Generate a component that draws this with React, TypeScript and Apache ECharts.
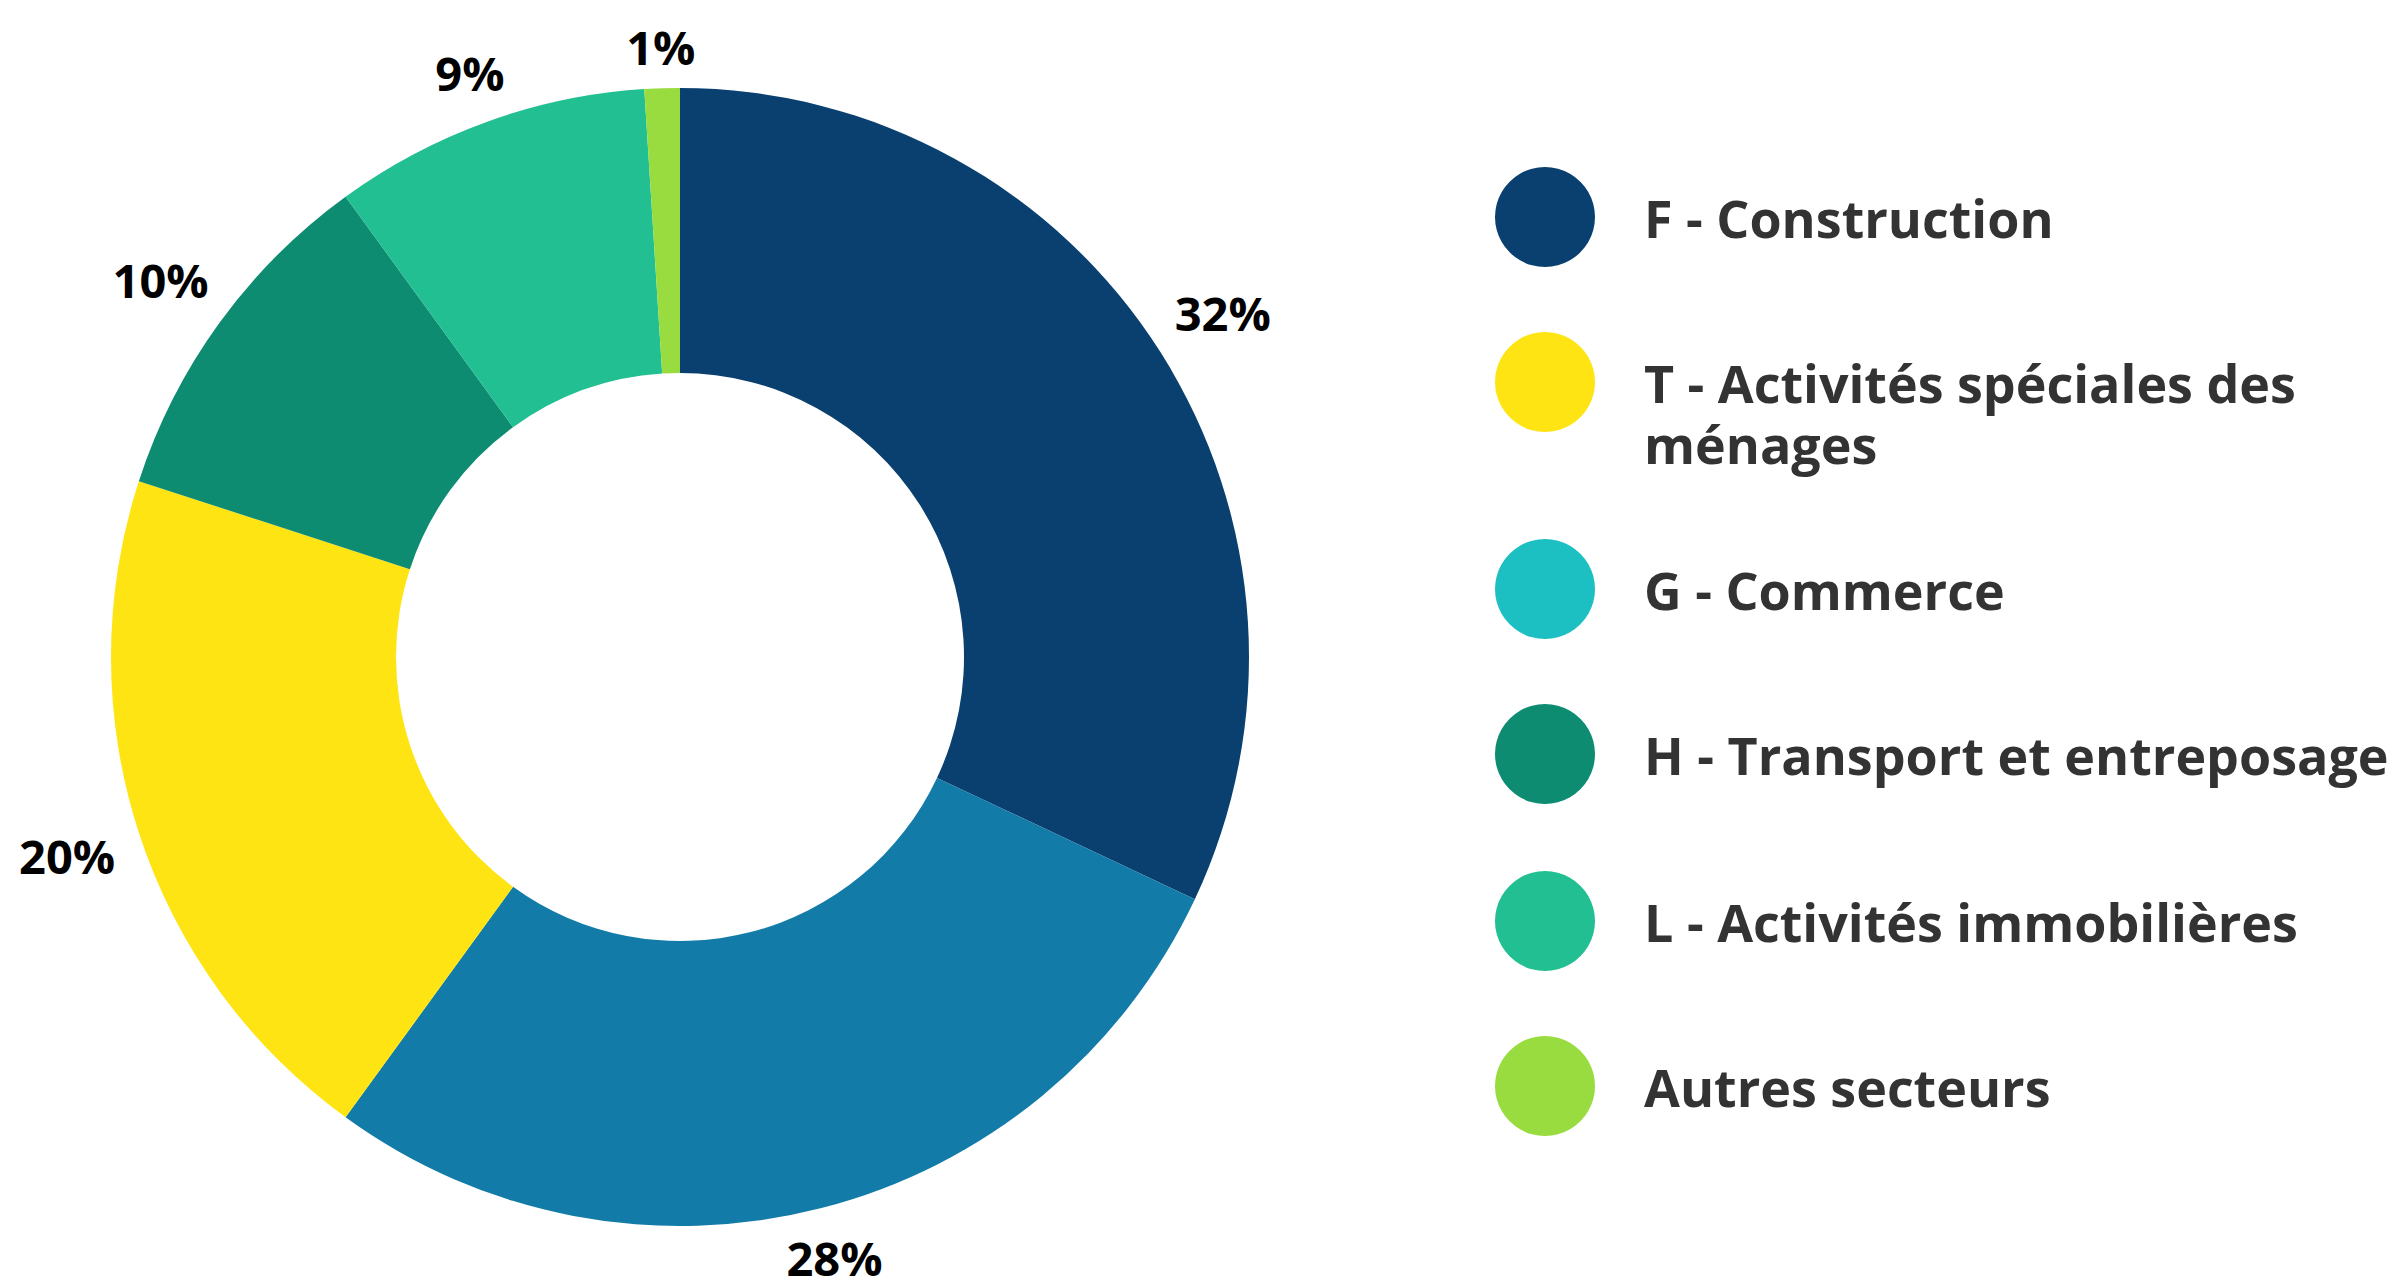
import React, { useEffect, useRef } from "react";
import * as echarts from "echarts";

const sectors = [
  "F - Construction",
  "G - Commerce",
  "T - Activités spéciales des ménages",
  "H - Transport et entreposage",
  "L - Activités immobilières",
  "Autres secteurs",
];
const shares = [32, 28, 20, 10, 9, 1];
const sliceColors = ["#0A406F", "#127BA8", "#FFE414", "#0E8C72", "#22BF92", "#98DC3F"];

const legendOrder = [
  "F - Construction",
  "T - Activités spéciales des ménages",
  "G - Commerce",
  "H - Transport et entreposage",
  "L - Activités immobilières",
  "Autres secteurs",
];
const legendTexts = [
  "F - Construction",
  "T - Activités spéciales des\nménages",
  "G - Commerce",
  "H - Transport et entreposage",
  "L - Activités immobilières",
  "Autres secteurs",
];
const legendColors = ["#0A406F", "#FFE414", "#1CBFC2", "#0E8C72", "#22BF92", "#98DC3F"];

const FONT = "'Open Sans', 'Noto Sans', sans-serif";
const CX = 680;
const CY = 657;
const R_IN = 284;
const R_OUT = 569;
const LABEL_R = 594;
const LABEL_HALF_H = 15.5;
const LEGEND_LEFT = 1495;
const ICON = 100;
const TEXT_GAP = 44;
const LEGEND_CENTERS = [217, 382, 589, 754, 921, 1086];
const LEGEND_FONT = 52;
const LEGEND_LINE = 61;

export default function App() {
  const ref = useRef<HTMLDivElement>(null);
  useEffect(() => {
    if (!ref.current) return;
    const chart = echarts.init(ref.current, undefined, { renderer: "svg" });

    const legends = legendOrder.map((name, i) => {
      const lines = legendTexts[i].split("\n").length;
      // leading blank lines keep the first line centred on the icon
      const text = "\n".repeat(lines - 1) + legendTexts[i];
      const blockH = (2 * lines - 1) * LEGEND_LINE;
      const topOffset = Math.max(ICON / 2, blockH / 2);
      return {
        show: true,
        orient: "vertical",
        left: LEGEND_LEFT,
        top: LEGEND_CENTERS[i] - topOffset,
        padding: 0,
        itemWidth: ICON,
        itemHeight: ICON,
        itemGap: 0,
        icon: "circle",
        selectedMode: false,
        formatter: () => text,
        textStyle: {
          fontFamily: FONT,
          fontWeight: "bold",
          fontSize: LEGEND_FONT,
          lineHeight: LEGEND_LINE,
          color: "#333333",
          padding: [0, 0, 0, TEXT_GAP],
        },
        data: [{ name, itemStyle: { color: legendColors[i] } }],
      };
    });

    chart.setOption({
      animation: false,
      backgroundColor: "#ffffff",
      legend: legends,
      series: [
        {
          type: "pie",
          center: [CX, CY],
          radius: [R_IN, R_OUT],
          startAngle: 90,
          clockwise: true,
          avoidLabelOverlap: false,
          silent: true,
          itemStyle: { borderWidth: 0 },
          emphasis: { disabled: true },
          labelLine: { show: false },
          label: {
            show: true,
            position: "inside",
            formatter: "{c}%",
            fontFamily: FONT,
            fontWeight: "bold",
            fontSize: 47,
            lineHeight: 40,
            color: "#000000",
          },
          labelLayout: (p: any) => {
            const r = p.labelRect;
            const lx = r.x + r.width / 2;
            const ly = r.y + r.height / 2;
            const dx = lx - CX;
            const dy = ly - CY;
            const len = Math.hypot(dx, dy) || 1;
            const ux = dx / len;
            const uy = dy / len;
            const dist = LABEL_R + Math.abs(ux) * (r.width / 2) + Math.abs(uy) * LABEL_HALF_H;
            return { x: CX + ux * dist, y: CY + uy * dist, align: "center", verticalAlign: "middle" };
          },
          data: sectors.map((name, i) => ({
            name,
            value: shares[i],
            itemStyle: { color: sliceColors[i] },
          })),
        },
      ],
    });
    return () => chart.dispose();
  }, []);
  return (
    <div
      ref={ref}
      style={{ position: "fixed", left: 0, top: 0, width: 2398, height: 1280, background: "#fff" }}
    />
  );
}
